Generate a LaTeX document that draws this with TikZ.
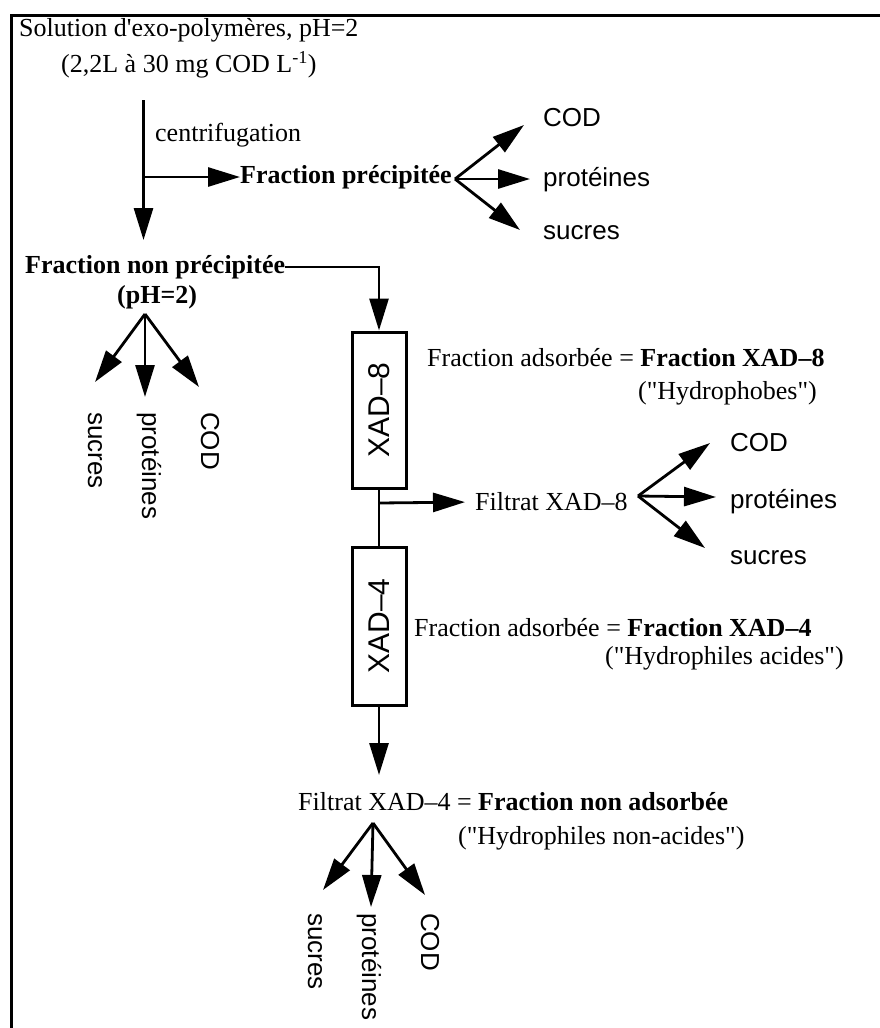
\documentclass[tikz,border=0pt]{standalone}
\usepackage{fontspec}
\setmainfont{Liberation Serif}
\setsansfont{Liberation Sans}
\usetikzlibrary{arrows.meta}
\begin{document}
\begin{tikzpicture}[x=1pt,y=-1pt,
  serif/.style={inner sep=0pt, anchor=west, font=\fontsize{26}{30}\selectfont},
  bserif/.style={inner sep=0pt, anchor=west, font=\bfseries\fontsize{26}{30}\selectfont},
  sans/.style={inner sep=0pt, anchor=west, font=\sffamily\fontsize{26}{30}\selectfont},
  vsans/.style={sans, rotate=-90},
  colbox/.style={draw, line width=3pt, minimum width=54pt, inner sep=0pt,
                 font=\sffamily\fontsize{30}{34}\selectfont},
  conn/.style={line width=2.8pt},
  arr/.style={line width=2.8pt, -{Triangle[length=32pt,width=19pt]}},
]
\useasboundingbox (0,0) rectangle (880,1028);
% frame
\draw[line width=3pt] (11,1028) -- (11,15) -- (880,15);

% texts
\node[serif] (sol) at (19,30) {Solution d\textquotesingle exo-polymères, pH=2};
\node[serif] (conc) at (61,65) {(2,2L à 30 mg COD L\textsuperscript{-1})};
\node[serif] (centrif) at (155,135) {centrifugation};
\node[bserif] (fprec) at (240,177) {Fraction précipitée};
\node[sans] (cod1) at (543,118) {COD};
\node[sans] (prot1) at (543,180) {protéines};
\node[sans] (suc1) at (543,233) {sucres};
\node[bserif] (fnp) at (25,267) {Fraction non précipitée};
\node[bserif] (ph) at (117,297) {(pH=2)};
\node[vsans] (suc2) at (95,412) {sucres};
\node[vsans] (prot2) at (149,412) {protéines};
\node[vsans] (cod2) at (210,412) {COD};

\node[colbox, minimum height=156pt] (xad8) at (379,410) {\rotatebox{90}{XAD–8}};
\node[colbox, minimum height=158pt] (xad4) at (379,626) {\rotatebox{90}{XAD–4}};

\node[serif] (ads8) at (427,358) {Fraction adsorbée = \textbf{Fraction XAD–8}};
\node[serif] (hphob) at (638,393) {(\textquotedbl Hydrophobes\textquotedbl)};
\node[serif] (filt8) at (475,502) {Filtrat XAD–8};
\node[sans] (cod3) at (730,443) {COD};
\node[sans] (prot3) at (730,502) {protéines};
\node[sans] (suc3) at (730,558) {sucres};

\node[serif] (ads4) at (414,628) {Fraction adsorbée = \textbf{Fraction XAD–4}};
\node[serif] (hacid) at (605,658) {(\textquotedbl Hydrophiles acides\textquotedbl)};
\node[serif] (filt4) at (298,802) {Filtrat XAD–4 = \textbf{Fraction non adsorbée}};
\node[serif] (hnacid) at (458,838) {(\textquotedbl Hydrophiles non-acides\textquotedbl)};
\node[vsans] (suc4) at (315,913) {sucres};
\node[vsans] (prot4) at (369,913) {protéines};
\node[vsans] (cod4) at (430,913) {COD};

% centrifugation
\coordinate (v0) at (143.5,100);
\coordinate (vb) at (143.5,177);
\coordinate (v1) at (143.5,240);
\draw[arr] (v0) -- (v1);
\draw[arr] (vb) -- (fprec.west);

% fork of precipitated fraction
\coordinate (f1) at (455,179);
\coordinate (t1a) at (524,125);
\coordinate (t1b) at (530,179);
\coordinate (t1c) at (520,230);
\draw[arr] (f1) -- (t1a);
\draw[arr] (f1) -- (t1b);
\draw[arr] (f1) -- (t1c);

% fork of non precipitated fraction
\coordinate (f2) at (145,314);
\coordinate (t2a) at (95,382);
\coordinate (t2b) at (145,397);
\coordinate (t2c) at (199,387);
\draw[arr] (f2) -- (t2a);
\draw[arr] (f2) -- (t2b);
\draw[arr] (f2) -- (t2c);

% to XAD-8
\draw[arr] (fnp.east) -| (xad8.north);
\draw[conn] (xad8.south) -- (xad4.north);
\coordinate (b8) at (379,503);
\draw[arr, shorten >=10pt] (b8) -- (filt8.west);

% fork of filtrat XAD-8
\coordinate (f3) at (638,496);
\coordinate (t3a) at (710,443);
\coordinate (t3b) at (716,497);
\coordinate (t3c) at (705,548);
\draw[arr] (f3) -- (t3a);
\draw[arr] (f3) -- (t3b);
\draw[arr] (f3) -- (t3c);

% XAD-4 output
\coordinate (v4) at (379,775);
\draw[arr] (xad4.south) -- (v4);

% bottom fork
\coordinate (f4) at (373,823);
\coordinate (t4a) at (323,890);
\coordinate (t4b) at (371,907);
\coordinate (t4c) at (425,895);
\draw[arr] (f4) -- (t4a);
\draw[arr] (f4) -- (t4b);
\draw[arr] (f4) -- (t4c);
\end{tikzpicture}
\end{document}
